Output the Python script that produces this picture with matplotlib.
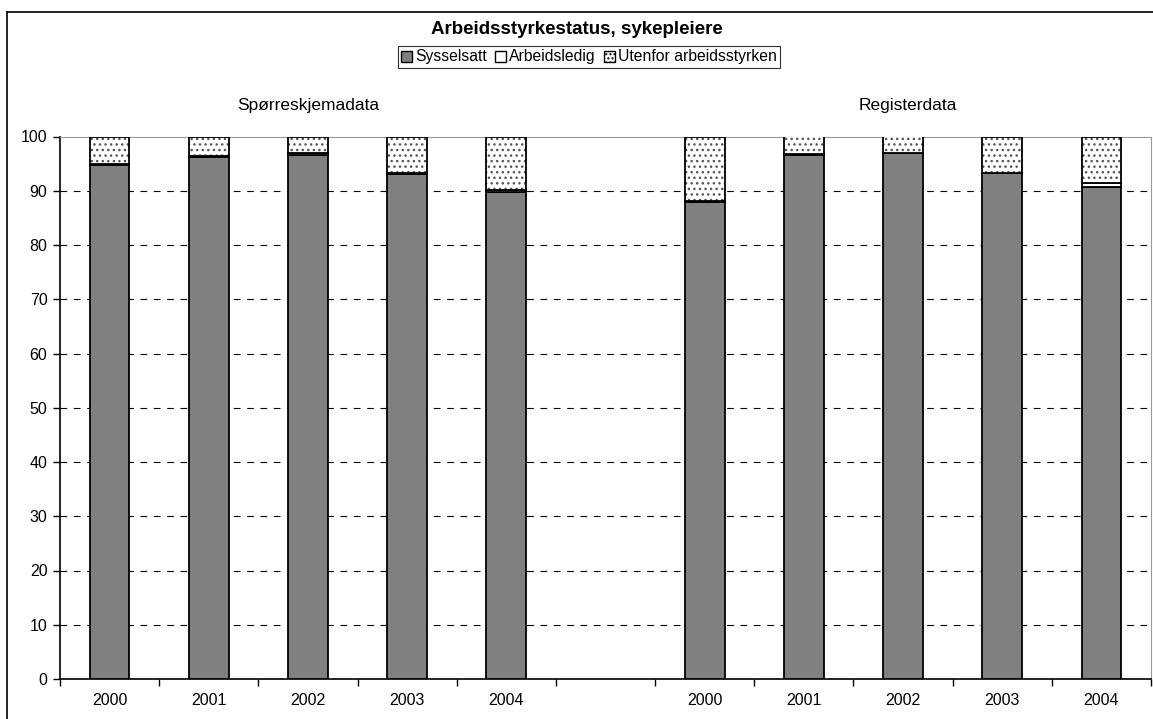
import matplotlib.pyplot as plt
import matplotlib.lines as mlines
import numpy as np

plt.rcParams['font.family'] = ['Liberation Sans', 'DejaVu Sans']
plt.rcParams['hatch.linewidth'] = 1.0

years = ['2000', '2001', '2002', '2003', '2004']
groups = ['Spørreskjemadata', 'Registerdata']

# andel i prosent
sysselsatt_sp = [94.7, 96.2, 96.6, 93.0, 89.8]
ledig_sp = [0.2, 0.2, 0.3, 0.3, 0.4]
sysselsatt_reg = [88.0, 96.6, 96.9, 93.2, 90.7]
ledig_reg = [0.1, 0.1, 0.1, 0.1, 0.8]

syss = sysselsatt_sp + [0] + sysselsatt_reg
ledig = ledig_sp + [0] + ledig_reg
utenfor = [100 - s - l for s, l in zip(sysselsatt_sp, ledig_sp)] + [0] + \
          [100 - s - l for s, l in zip(sysselsatt_reg, ledig_reg)]
labels = years + [''] + years

x = np.arange(len(labels))
mask = np.array([lab != '' for lab in labels])
syss = np.array(syss)
ledig = np.array(ledig)
utenfor = np.array(utenfor)

fig = plt.figure(figsize=(11.53, 7.19), dpi=100)
ax = fig.add_axes([60 / 1153, 1 - 679 / 719, 1091 / 1153, (679 - 136.5) / 719])

w = 0.4
ax.bar(x[mask], syss[mask], w, color='#808080', edgecolor='black', linewidth=1.3,
       label='Sysselsatt', zorder=3)
ax.bar(x[mask], ledig[mask], w, bottom=syss[mask], color='white', edgecolor='black',
       linewidth=1.3, label='Arbeidsledig', zorder=3)
# prikkete del: grå prikker, svart kant tegnes over
ax.bar(x[mask], utenfor[mask], w, bottom=(syss + ledig)[mask], color='white',
       edgecolor='#555555', linewidth=0, hatch='...', zorder=3)
ax.bar(x[mask], utenfor[mask], w, bottom=(syss + ledig)[mask], fill=False,
       edgecolor='black', linewidth=1.3, zorder=4)

ax.set_xlim(-0.5, len(labels) - 0.5)
ax.set_ylim(0, 100)
ax.set_yticks(range(0, 101, 10))
ax.set_xticks(np.arange(-0.5, len(labels) + 0.5, 1))
ax.set_xticklabels([])
ax.set_xticks(x, minor=True)
ax.set_xticklabels(labels, minor=True)
ax.tick_params(axis='x', which='major', direction='out', length=5, width=1)
ax.tick_params(axis='x', which='minor', length=0, pad=10, labelsize=11.5)
ax.tick_params(axis='y', direction='out', length=5, width=1, labelsize=11.5, pad=4)

for yv in range(10, 100, 10):
    ax.axhline(yv, color='black', linestyle=(0, (6, 6)), linewidth=0.8, zorder=1)

ax.spines['top'].set_color('#999999')
ax.spines['right'].set_color('#999999')
ax.spines['left'].set_linewidth(1.2)
ax.spines['bottom'].set_linewidth(1.2)

ax.text(2, 105.8, groups[0], ha='center', va='center', fontsize=12.5)
ax.text(8.05, 105.8, groups[1], ha='center', va='center', fontsize=12.5)

fig.text(0.5, 1 - 29 / 719, 'Arbeidsstyrkestatus, sykepleiere', ha='center', va='center',
         fontsize=13.5, fontweight='bold')

# egne legend-håndtak
h1 = plt.Rectangle((0, 0), 1, 1, facecolor='#808080', edgecolor='black', linewidth=1)
h2 = plt.Rectangle((0, 0), 1, 1, facecolor='white', edgecolor='black', linewidth=1)
h3 = plt.Rectangle((0, 0), 1, 1, facecolor='white', edgecolor='black', linewidth=1, hatch='....')
leg = fig.legend([h1, h2, h3], ['Sysselsatt', 'Arbeidsledig', 'Utenfor arbeidsstyrken'],
                 loc='center', bbox_to_anchor=(589 / 1153, 1 - 57 / 719), ncol=3,
                 fontsize=11.3, frameon=True, fancybox=False, edgecolor='black',
                 handlelength=0.7, handleheight=0.7, handletextpad=0.2,
                 columnspacing=0.5, borderpad=0.2, borderaxespad=0)
leg.get_frame().set_linewidth(0.8)

# ramme rundt figuren
fig.add_artist(mlines.Line2D([7 / 1153, 7 / 1153], [0, 1 - 12 / 719], color='black', lw=1.2))
fig.add_artist(mlines.Line2D([7 / 1153, 1], [1 - 12 / 719, 1 - 12 / 719], color='black', lw=1.2))

plt.savefig('out.png', dpi=100)
